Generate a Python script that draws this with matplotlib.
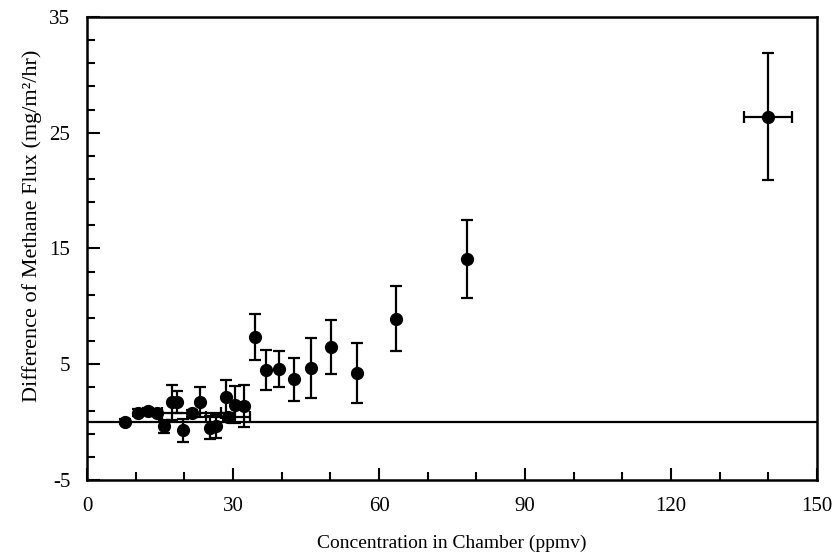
import matplotlib
matplotlib.use("Agg")
import matplotlib.pyplot as plt
from matplotlib.ticker import MultipleLocator, FixedLocator

# Concentration in chamber (ppmv)
conc = [7.7, 10.5, 12.5, 14.3, 15.8, 17.4, 18.4, 19.8, 21.5, 23.2,
        25.3, 26.6, 29.0, 28.6, 30.4, 32.3,
        34.5, 36.7, 39.4, 42.6, 46.0, 50.1, 55.4, 63.4, 78.1, 139.9]
# Difference of methane flux (mg/m2/hr)
flux = [0.05, 0.8, 0.95, 0.8, -0.35, 1.7, 1.7, -0.7, 0.75, 1.7,
        -0.5, -0.35, 0.45, 2.2, 1.5, 1.4,
        7.35, 4.5, 4.6, 3.7, 4.7, 6.5, 4.25, 8.95, 14.1, 26.4]
flux_err = [0.2, 0.3, 0.3, 0.3, 0.55, 1.5, 0.95, 1.0, 0.3, 1.3,
            1.0, 1.0, 0.3, 1.4, 1.6, 1.8,
            1.95, 1.7, 1.55, 1.85, 2.6, 2.3, 2.6, 2.8, 3.4, 5.5]
conc_err = [0, 0, 0, 0, 0, 0, 0, 0, 6.0, 0,
            0, 0, 4.5, 0, 0, 0,
            0, 0, 0, 0, 0, 0, 0, 0, 0, 4.9]

plt.rcParams['font.family'] = ['Liberation Serif', 'DejaVu Serif']
plt.rcParams['axes.unicode_minus'] = False

fig = plt.figure(figsize=(8.32, 5.54), dpi=100)
ax = fig.add_axes([0.1046, 0.1336, 0.8774, 0.8357])

ax.axhline(0, color='black', lw=1.6, zorder=1)
ax.errorbar(conc, flux, yerr=flux_err, xerr=conc_err, fmt='o', color='black',
            ms=8.5, elinewidth=1.6, capsize=4.5, capthick=1.6, zorder=3)

ax.set_xlim(0, 150)
ax.set_ylim(-5, 35)
ax.xaxis.set_major_locator(MultipleLocator(30))
ax.xaxis.set_minor_locator(MultipleLocator(10))
ax.yaxis.set_major_locator(FixedLocator([-5, 5, 15, 25, 35]))
ax.yaxis.set_minor_locator(FixedLocator(list(range(-5, 36, 2))))

ax.tick_params(which='both', direction='in', top=False, right=False,
               labelsize=15, width=1.5)
ax.tick_params(axis='x', which='both', pad=12)
ax.tick_params(axis='y', which='both', pad=12)
ax.tick_params(which='major', length=9)
ax.tick_params(which='minor', length=6)
for sp in ax.spines.values():
    sp.set_linewidth(1.8)

ax.set_xlabel('Concentration in Chamber (ppmv)', fontsize=14, labelpad=14)
ax.set_ylabel('Difference of Methane Flux (mg/m\u00b2/hr)', fontsize=16)
ax.yaxis.set_label_coords(-0.062, 0.55)

fig.savefig('out.png', dpi=100)
